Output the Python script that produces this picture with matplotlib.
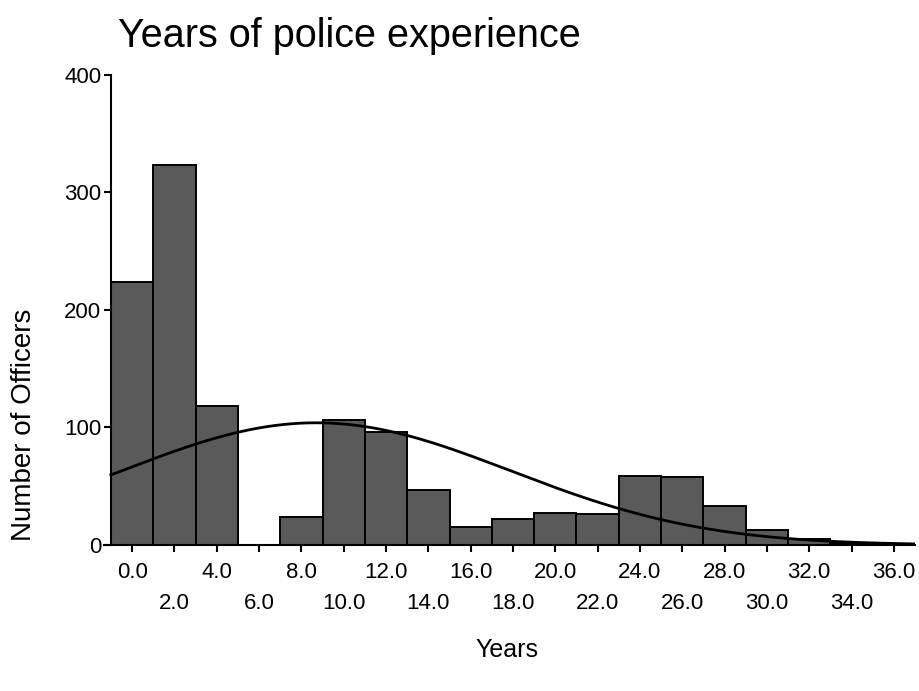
import matplotlib
matplotlib.use('Agg')
import matplotlib.pyplot as plt
import numpy as np

plt.rcParams['font.family'] = ['Liberation Sans', 'DejaVu Sans']

# Histogram counts, one bin of width 2 per year value
years = [0, 2, 4, 6, 8, 10, 12, 14, 16, 18, 20, 22, 24, 26, 28, 30, 32, 34, 36]
officers = [224, 323, 118, 0, 24, 106, 96, 47, 15, 22, 27, 26, 59, 58, 33, 13, 5, 2, 1]
y_ticks = [0, 100, 200, 300, 400]

bin_width = 2
years_arr = np.array(years, dtype=float)
counts = np.array(officers, dtype=float)

fig = plt.figure(figsize=(9.2, 6.91), dpi=100)
ax = fig.add_axes([0.113, 0.2113, 0.8816, 0.6802])

# Bars
ax.bar(years_arr, counts, width=bin_width, color='#5a5a5a',
       edgecolor='black', linewidth=1.4, align='center', zorder=2)

# Normal curve fitted to the histogram
n = counts.sum()
mean = (years_arr * counts).sum() / n
sd = np.sqrt((counts * (years_arr - mean) ** 2).sum() / n)
xs = np.linspace(-1, 37, 300)
ys = n * bin_width / (sd * np.sqrt(2 * np.pi)) * np.exp(-0.5 * ((xs - mean) / sd) ** 2)
ax.plot(xs, ys, color='black', lw=2, zorder=3)

ax.set_xlim(-1.33, 37)
ax.set_ylim(0, 400)

# Axes styling
ax.spines['top'].set_visible(False)
ax.spines['right'].set_visible(False)
ax.spines['left'].set_position(('data', -1))
ax.spines['left'].set_linewidth(1.5)
ax.spines['bottom'].set_linewidth(1.5)

ax.set_yticks(y_ticks)
ax.set_yticklabels([str(v) for v in y_ticks], fontsize=16)
ax.tick_params(axis='y', direction='out', length=5, width=1.5, pad=2)

# Staggered x labels: every second one on a lower row
ax.set_xticks(years)
xlabels = [f'{v:.1f}' if i % 2 == 0 else f'\n{v:.1f}' for i, v in enumerate(years)]
ax.set_xticklabels(xlabels, fontsize=16, linespacing=1.65)
ax.tick_params(axis='x', direction='out', length=5, width=1.5, pad=7)

fig.text(0.128, 0.932, 'Years of police experience', fontsize=28.5, ha='left', va='baseline')
fig.text(0.026, 0.385, 'Number of Officers', fontsize=20, rotation=90, ha='center', va='center')
fig.text(0.551, 0.059, 'Years', fontsize=18, ha='center', va='center')

plt.savefig('out.png', dpi=100)
